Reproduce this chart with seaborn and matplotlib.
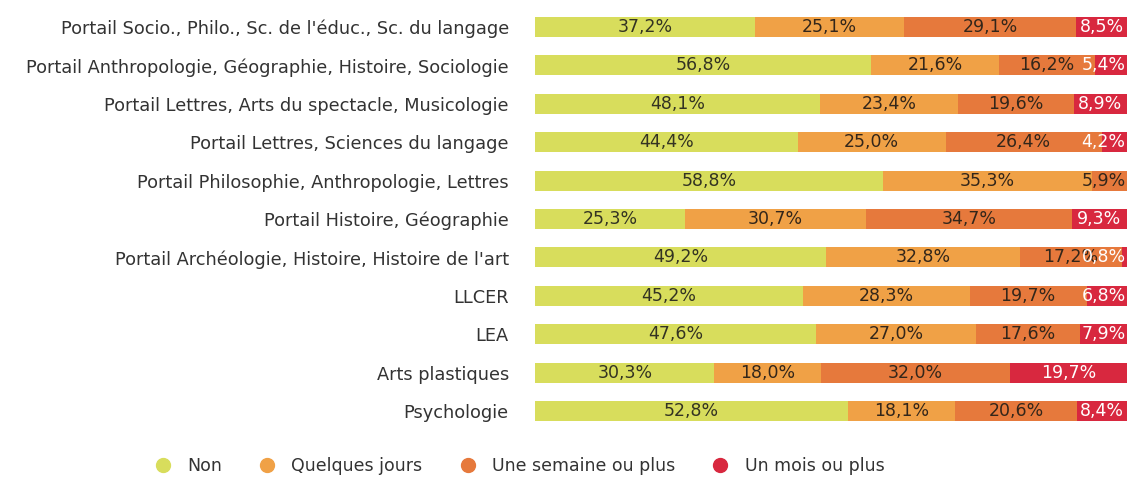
import numpy as np
import pandas as pd
import matplotlib
matplotlib.use("Agg")
import matplotlib.pyplot as plt
import seaborn as sns
from matplotlib.lines import Line2D

categories = [
    "Portail Socio., Philo., Sc. de l'éduc., Sc. du langage",
    "Portail Anthropologie, Géographie, Histoire, Sociologie",
    "Portail Lettres, Arts du spectacle, Musicologie",
    "Portail Lettres, Sciences du langage",
    "Portail Philosophie, Anthropologie, Lettres",
    "Portail Histoire, Géographie",
    "Portail Archéologie, Histoire, Histoire de l'art",
    "LLCER",
    "LEA",
    "Arts plastiques",
    "Psychologie",
]
series_names = ["Non", "Quelques jours", "Une semaine ou plus", "Un mois ou plus"]
non = [37.2, 56.8, 48.1, 44.4, 58.8, 25.3, 49.2, 45.2, 47.6, 30.3, 52.8]
quelques = [25.1, 21.6, 23.4, 25.0, 35.3, 30.7, 32.8, 28.3, 27.0, 18.0, 18.1]
semaine = [29.1, 16.2, 19.6, 26.4, 5.9, 34.7, 17.2, 19.7, 17.6, 32.0, 20.6]
mois = [8.5, 5.4, 8.9, 4.2, 0.0, 9.3, 0.8, 6.8, 7.9, 19.7, 8.4]

colors = ["#d8dd5c", "#f0a146", "#e6793c", "#d8283f"]
text_colors = ["#333322", "#33261a", "#33261a", "#ffffff"]

vals = np.array([non, quelques, semaine, mois])
totals = vals.sum(axis=0)
norm = vals / totals * 100
cum = np.cumsum(norm, axis=0)

sns.set_theme(style="white")
plt.rcParams['font.family'] = ['DejaVu Sans']

fig = plt.figure(figsize=(11.29, 4.78), dpi=100)
ax = fig.add_axes([0.474, 0.100, 0.524, 0.8837])

# draw stacked bars by overlaying cumulative totals, largest first
for k in range(3, -1, -1):
    df = pd.DataFrame({"cat": categories, "val": cum[k]})
    sns.barplot(data=df, x="val", y="cat", orient="h", color=colors[k],
                saturation=1, width=0.52, ax=ax, linewidth=0)

ax.set_xlim(0, 100)
ax.set_ylim(len(categories) - 0.5, -0.5)
ax.set_xlabel("")
ax.set_ylabel("")
ax.set_xticks([])
for s in ax.spines.values():
    s.set_visible(False)
ax.tick_params(axis="y", length=0, pad=19, labelsize=12.8, labelcolor="#333333")

# labels (kept inside the plot on the right edge, like the original)
fig.canvas.draw()
renderer = fig.canvas.get_renderer()
inv = ax.transData.inverted()
for k in range(4):
    for i in range(len(categories)):
        v = vals[k, i]
        if v <= 0:
            continue
        start = cum[k, i] - norm[k, i]
        center = start + norm[k, i] / 2
        t = ax.text(center, i, f"{v:.1f}%".replace(".", ","), ha="center", va="center",
                    fontsize=12.5, color=text_colors[k])
        bb = t.get_window_extent(renderer)
        x1 = inv.transform((bb.x1, bb.y1))[0]
        if x1 > 99.8:
            t.set_ha("right")
            t.set_x(99.8)

handles = [Line2D([0], [0], marker="o", linestyle="", markersize=10,
                  markerfacecolor=c, markeredgecolor=c) for c in colors]
fig.legend(handles, series_names, loc="center", bbox_to_anchor=(0.456, 0.025),
           ncol=4, frameon=False, fontsize=12.5, handletextpad=0.4,
           columnspacing=1.6, labelcolor="#333333")

fig.savefig("out.png", dpi=100)
